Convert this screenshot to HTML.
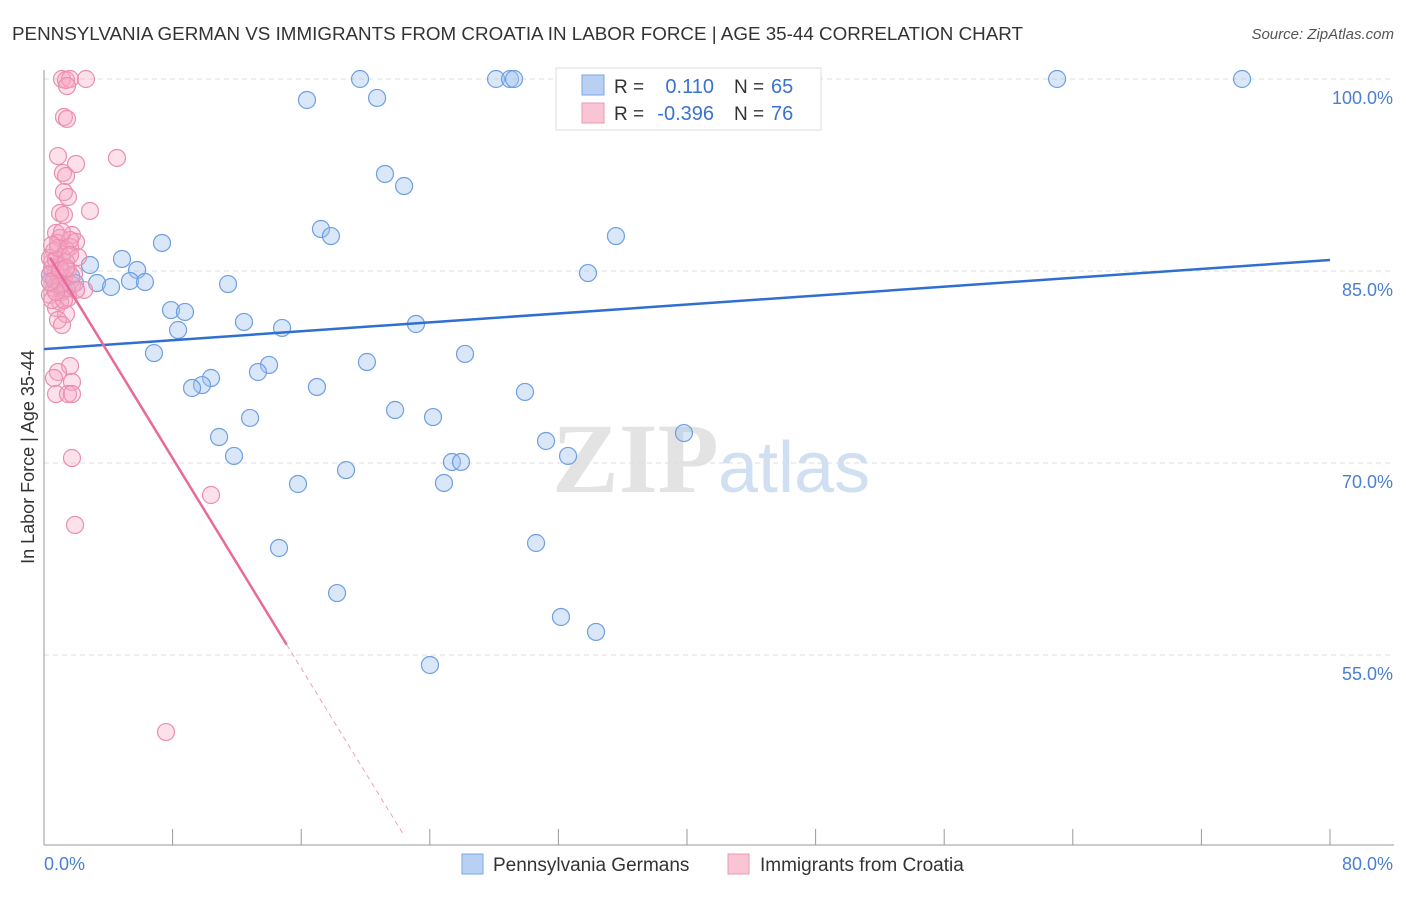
<!DOCTYPE html>
<html><head><meta charset="utf-8"><style>
body{margin:0;background:#fff;font-family:"Liberation Sans",sans-serif}
</style></head><body>
<svg id="chart" width="1406" height="892" xmlns="http://www.w3.org/2000/svg" font-family="Liberation Sans, sans-serif">
<text x="12" y="40" font-size="18" fill="#333" textLength="1011" lengthAdjust="spacingAndGlyphs">PENNSYLVANIA GERMAN VS IMMIGRANTS FROM CROATIA IN LABOR FORCE | AGE 35-44 CORRELATION CHART</text>
<text x="1394" y="39" font-size="15" font-style="italic" fill="#555" text-anchor="end">Source: ZipAtlas.com</text>
<g>
<text x="552" y="492" font-size="100" font-family="Liberation Serif, serif" font-weight="bold" fill="#ddd" opacity="0.8">ZIP</text>
<text x="718" y="492" font-size="72" fill="#c5d8f0" opacity="0.8">atlas</text>
</g>
<g id="grid"></g>
<g id="axes"></g>
<g id="marks"></g>
<text transform="translate(34,457) rotate(-90)" font-size="18" fill="#333" text-anchor="middle">In Labor Force | Age 35-44</text>
<g>
<rect x="556" y="68" width="265" height="62" fill="#fff" stroke="#ddd"/>
<rect x="582" y="75" width="22" height="20" fill="#b8d1f3" stroke="#7aa6e0"/>
<rect x="582" y="103" width="22" height="20" fill="#f9c4d4" stroke="#ec9ab5"/>
<text x="614" y="93" font-size="19" fill="#333">R =</text>
<text x="714" y="93" font-size="20" fill="#3a72d0" text-anchor="end">0.110</text>
<text x="734" y="93" font-size="19" fill="#333">N =</text>
<text x="771" y="93" font-size="20" fill="#3a72d0">65</text>
<text x="614" y="120" font-size="19" fill="#333">R =</text>
<text x="714" y="120" font-size="20" fill="#3a72d0" text-anchor="end">-0.396</text>
<text x="734" y="120" font-size="19" fill="#333">N =</text>
<text x="771" y="120" font-size="20" fill="#3a72d0">76</text>
</g>
<g>
<rect x="462" y="854" width="21" height="20" fill="#b8d1f3" stroke="#7aa6e0"/>
<text x="493" y="871" font-size="19" fill="#333">Pennsylvania Germans</text>
<rect x="728" y="854" width="21" height="20" fill="#f9c4d4" stroke="#ec9ab5"/>
<text x="760" y="871" font-size="19" fill="#333">Immigrants from Croatia</text>
</g>
</svg>
<script>
const blueX=[19.66,28.12,28.99,29.24,46.97,63.02,74.53,16.36,20.72,21.21,22.40,17.23,17.85,35.58,7.34,4.85,2.86,5.79,33.84,3.30,4.17,5.35,6.28,11.45,1.68,1.24,7.90,8.77,8.34,12.44,14.81,23.14,6.84,26.19,20.09,14.00,13.31,10.39,9.83,9.21,16.98,29.92,21.84,24.20,12.82,10.89,31.23,39.81,11.82,32.60,18.79,25.38,25.94,15.80,24.88,14.62,30.61,18.23,32.16,34.34,24.01,1.0,0.68,0.37,1.93];
const blueY=[100,100,100,100,100,100,100,98.36,98.52,92.58,91.64,88.28,87.73,87.73,87.19,85.94,85.47,85.08,84.84,84.06,83.75,84.22,84.14,83.98,84.61,83.52,81.95,81.80,80.39,81.02,80.55,80.86,78.59,78.52,77.89,77.66,77.11,76.64,76.09,75.86,75.94,75.55,74.14,73.59,73.52,72.03,71.72,72.34,70.55,70.55,69.45,70.08,70.08,68.36,68.44,63.36,63.75,59.84,57.97,56.80,54.22,83.91,84.30,84.69,84.06];
const pinkX=[1.12,1.37,1.62,2.61,1.43,1.24,1.43,0.87,4.54,1.99,1.18,1.37,1.24,1.49,2.86,1.0,1.24,0.75,1.0,1.74,1.99,0.87,1.62,1.37,0.62,1.12,2.12,0.5,1.0,1.49,0.75,0.37,1.24,0.87,1.74,0.62,1.12,2.49,0.37,1.49,1.0,0.75,1.37,0.87,1.12,1.62,0.87,0.62,1.74,0.75,1.49,1.74,1.74,10.39,1.93,7.59,0.62,0.5,0.37,0.75,1.0,1.37,0.5,1.62,1.12,1.37,0.87,1.87,1.99,1.0,1.24,0.75,0.37,1.62,0.5,1.37];
const pinkY=[100,99.92,100,100,99.45,97.03,96.88,93.98,93.83,93.36,92.66,92.42,91.17,90.78,89.69,89.53,89.38,87.97,87.58,87.81,87.27,87.19,86.88,86.64,86.56,86.09,86.09,85.70,85.39,85.08,84.92,84.69,84.45,84.14,83.91,83.67,83.36,83.52,83.13,82.89,82.58,82.11,81.64,81.17,80.78,77.58,77.11,76.64,76.33,75.39,75.39,75.39,70.39,67.50,65.16,48.98,84.30,85.23,86.02,85.86,83.91,83.67,82.73,87.42,88.05,85.70,86.80,84.77,83.52,85.08,82.73,83.36,84.14,86.25,87.03,85.23];
const yTicks=[100,85,70,55];
const yTickLabels=["100.0%","85.0%","70.0%","55.0%"];
const xTicks=[0,8,16,24,32,40,48,56,64,72,80];
const blueTrend=[[0,78.9],[80,85.86]];
const pinkTrendSolid=[[0.37,86.05],[15.1,55.8]];
const pinkTrendDash=[[15.1,55.8],[22.3,41.1]];

const NS="http://www.w3.org/2000/svg";
const sx=v=>44+v*16.075, sy=v=>79+(100-v)*12.8;
function mk(tag,attrs,parent){const e=document.createElementNS(NS,tag);for(const k in attrs)e.setAttribute(k,attrs[k]);parent.appendChild(e);return e;}
const grid=document.getElementById('grid'),axes=document.getElementById('axes'),marks=document.getElementById('marks');
yTicks.forEach((t,i)=>{
 const l=mk('line',{x1:44,x2:1394,y1:sy(t),y2:sy(t),stroke:'#ddd','stroke-dasharray':'5,4'},grid);
 
 
 const tx=mk('text',{x:1393,y:sy(t)+25,'font-size':18,fill:'#4a7fd0','text-anchor':'end'},axes);
 tx.textContent=yTickLabels[i];
 
 
});
const ya=mk('line',{x1:44,x2:44,y1:70,y2:845,stroke:'#999'},axes);


const xa=mk('line',{x1:44,x2:1394,y1:845,y2:845,stroke:'#999'},axes);


xTicks.forEach(t=>{
 const l=mk('line',{x1:sx(t),x2:sx(t),y1:829,y2:845,stroke:'#999'},axes);
 
 
});
const x0=mk('text',{x:44,y:870,'font-size':18,fill:'#4a7fd0'},axes);x0.textContent="0.0%";


const x1=mk('text',{x:1393,y:870,'font-size':18,fill:'#4a7fd0','text-anchor':'end'},axes);x1.textContent="80.0%";


blueX.forEach((v,i)=>{
 const c=mk('circle',{cx:sx(v),cy:sy(blueY[i]),r:8.5,fill:'rgba(160,196,240,0.4)',stroke:'#6f9fe0','stroke-width':1.2},marks);
 
 
});
pinkX.forEach((v,i)=>{
 const c=mk('circle',{cx:sx(v),cy:sy(pinkY[i]),r:8.5,fill:'rgba(246,166,195,0.35)',stroke:'#ea8fb0','stroke-width':1.2},marks);
 
 
});
const bt=mk('line',{x1:sx(blueTrend[0][0]),y1:sy(blueTrend[0][1]),x2:sx(blueTrend[1][0]),y2:sy(blueTrend[1][1]),stroke:'#2f6fd0','stroke-width':2.5},marks);


const pt=mk('line',{x1:sx(pinkTrendSolid[0][0]),y1:sy(pinkTrendSolid[0][1]),x2:sx(pinkTrendSolid[1][0]),y2:sy(pinkTrendSolid[1][1]),stroke:'#e8699a','stroke-width':2.5},marks);


const pd=mk('line',{x1:sx(pinkTrendDash[0][0]),y1:sy(pinkTrendDash[0][1]),x2:sx(pinkTrendDash[1][0]),y2:sy(pinkTrendDash[1][1]),stroke:'#eea0bb','stroke-width':1,'stroke-dasharray':'5,4'},marks);


</script>
</body></html>
